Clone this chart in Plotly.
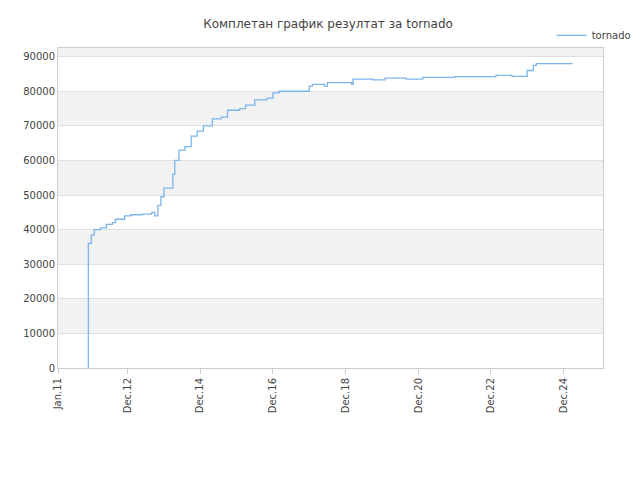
import plotly.graph_objects as go

dates = ["2011-11-01","2011-11-02","2011-12-01","2012-01-01","2012-03-01","2012-05-01","2012-07-01","2012-08-01","2012-11-01",
"2013-01-01","2013-05-01","2013-08-01","2013-09-01","2013-10-01","2013-11-01","2013-12-01","2014-02-01","2014-03-01","2014-03-20",
"2014-05-01","2014-07-01","2014-09-01","2014-11-01","2015-01-01","2015-04-01","2015-07-01","2015-09-01","2016-01-01","2016-03-01",
"2016-06-01","2016-10-01","2016-12-01","2017-02-01","2017-11-01","2017-12-01","2018-01-01","2018-05-01","2018-06-01","2018-10-01",
"2019-02-01","2019-02-15","2019-07-01","2019-09-01","2019-12-01","2020-01-01","2020-07-01","2020-08-01","2021-01-01","2021-01-15",
"2021-12-01","2023-01-01","2023-01-20","2023-06-01","2023-07-01","2023-11-01","2023-12-01","2024-02-01","2024-03-01","2025-03-01"]
values = [0,36000,38500,40000,40500,41500,42000,43000,44000,
44300,44500,45000,44000,47000,49500,52000,52000,56000,60000,
63000,64000,67000,68500,70000,72000,72500,74500,75000,76000,
77500,78000,79500,80000,80000,81500,82000,81500,82500,82500,
82000,83500,83500,83300,83300,83800,83800,83500,83500,84000,
84200,84200,84600,84600,84300,84300,86000,87500,88000,88000]

tick_vals = ["2011-01-01","2012-12-01","2014-12-01","2016-12-01","2018-12-01","2020-12-01","2022-12-01","2024-12-01"]
tick_text = ["Jan.11","Dec.12","Dec.14","Dec.16","Dec.18","Dec.20","Dec.22","Dec.24"]

fig = go.Figure(go.Scatter(x=dates, y=values, mode="lines", line=dict(color="#7cb5ec", width=1.3, shape="hv"), name="tornado"))
shapes = []
for lo in [10000, 30000, 50000, 70000, 90000]:
    shapes.append(dict(type="rect", xref="paper", x0=0, x1=1, yref="y", y0=lo, y1=min(lo+10000, 92500),
                       fillcolor="#f2f2f2", line_width=0, layer="below"))
fig.update_layout(
    width=640, height=480, paper_bgcolor="white", plot_bgcolor="white",
    font=dict(family="DejaVu Sans", size=10, color="#444"),
    title=dict(text="Комплетан график резултат за tornado", x=0.5, xanchor="center", y=0.975, font=dict(size=12, color="#444")),
    margin=dict(l=50, r=40, t=40, b=120),
    shapes=shapes,
    showlegend=True,
    legend=dict(x=1.06, y=1.085, xanchor="right", yanchor="top", bgcolor="rgba(0,0,0,0)", font=dict(size=10),
                itemwidth=30),
    xaxis=dict(range=["2011-01-01","2026-01-01"], tickvals=tick_vals, ticktext=tick_text, tickangle=-90,
               showgrid=False, showline=True, linecolor="#ccc", ticks="outside", tickcolor="#ccc", mirror=True),
    yaxis=dict(range=[0, 92500], tickvals=list(range(0, 90001, 10000)), tickformat="d", showgrid=True, gridcolor="#e0e0e0",
               showline=True, linecolor="#ccc", mirror=True, zeroline=False),
)
fig.write_html("out.html")
